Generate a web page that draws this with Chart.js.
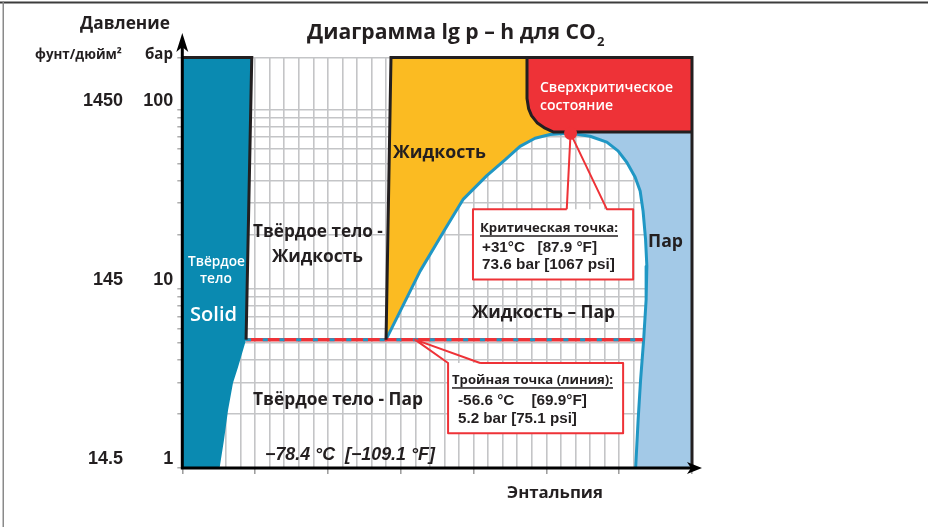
<!DOCTYPE html>
<html>
<head>
<meta charset="utf-8">
<script src="https://cdn.jsdelivr.net/npm/chart.js@4.4.0/dist/chart.umd.min.js"></script>
<style>
  html, body { margin: 0; padding: 0; background: #fff; }
</style>
</head>
<body>
<canvas id="chart" width="928" height="527"></canvas>
<script>
// x = enthalpy in grid cells (0..35, no units shown), y = pressure in bar (log)
const P_MIN = 1, P_MAX = 195, H_MAX = 35;
const barTicks = [1, 10, 100];
const psiTicks = [14.5, 145, 1450];
const pressureGrid = [1, 2, 3, 4, 5, 6, 7, 8, 9, 10, 20, 30, 40, 50, 60, 70, 80, 90, 100];

// solid phase (left)
const solidH = [0, 0, 4.77, 4.38, 3.83, 3.48, 3.14, 2.86, 2.56];
const solidP = [1, 195, 195, 5.2, 3.66, 2.98, 2.1, 1.43, 1];

// melting line (left edge of liquid)
const meltH = [13.99, 14.33];
const meltP = [5.2, 195];

// saturation dome
const domeLeftH = [13.99, 16.33, 18.04, 19.30, 20.91, 22.16, 23.19, 24.22, 25.25];
const domeLeftP = [5.2, 12.54, 21.48, 31.64, 42.76, 52.4, 62.3, 69.1, 72.5];
const critH = 26.66, critP = 73.6;
const domeRightH = [28.0, 29.15, 29.92, 30.52, 31.09, 31.44, 31.64, 31.81, 31.9, 31.85, 31.68, 31.47, 31.3, 31.13];
const domeRightP = [70.9, 65.8, 58.8, 50.8, 42.05, 35.1, 27.1, 18.9, 13.37, 8.7, 5.19, 3.1, 1.85, 1];

// supercritical region
const superH = [23.67, 23.67, 23.78, 23.98, 24.36, 24.91, 25.46, 35, 35];
const superP = [195, 115.1, 101.2, 92.4, 84.4, 78.6, 75, 75, 195];

// triple line
const tripleH = [4.38, 31.62];
const tripleP = [5.2, 5.2];

// callout boxes
const critBoxH = [19.96, 30.96], critBoxP = [11.26, 27.8], critNeckH = [26.40, 29.15];
const tripBoxH = [18.25, 30.27], tripBoxP = [1.561, 3.855], tripNeckH = [18.25, 20.45];
const tripAnchorH = 15.98;

const pts = (h, p) => h.map((v, i) => ({x: v, y: p[i]}));

function area(h, p, color) {
  return {data: pts(h, p), showLine: true, fill: 'shape', backgroundColor: color,
    borderColor: 'rgba(0,0,0,0)', borderWidth: 0, pointRadius: 0, clip: false};
}
function line(h, p, color, width, dash, join) {
  return {data: pts(h, p), showLine: true, fill: false, borderColor: color, borderWidth: width,
    borderDash: dash || [], borderJoinStyle: join || 'miter', borderCapStyle: 'butt',
    pointRadius: 0, clip: false};
}

const TEAL = '#0a8ab1', YELLOW = '#fbbb22', RED = '#ee3237', SKY = '#a3c9e7';
const DOME = '#2097c4', INK = '#231f20', GRID = '#c4c5c7';

const rev = a => a.slice().reverse();

const yellowH = [meltH[0], meltH[1], critH, critH, ...rev(domeLeftH)];
const yellowP = [meltP[0], meltP[1], P_MAX, critP, ...rev(domeLeftP)];
const skyH = [critH, critH, H_MAX, H_MAX, ...rev(domeRightH)];
const skyP = [critP, superP[6], superP[6], P_MIN, ...rev(domeRightP)];
const domeH = [...domeLeftH, critH, ...domeRightH];
const domeP = [...domeLeftP, critP, ...domeRightP];

const critBorderH = [critNeckH[0], critBoxH[0], critBoxH[0], critBoxH[1], critBoxH[1], critNeckH[1], critH, critNeckH[0]];
const critBorderP = [critBoxP[1], critBoxP[1], critBoxP[0], critBoxP[0], critBoxP[1], critBoxP[1], critP, critBoxP[1]];
const tripBorderH = [tripNeckH[1], tripAnchorH, tripNeckH[0], tripBoxH[0], tripBoxH[1], tripBoxH[1], tripNeckH[1]];
const tripBorderP = [tripBoxP[1], tripleP[0], tripBoxP[1], tripBoxP[0], tripBoxP[0], tripBoxP[1], tripBoxP[1]];

// bottom to top
const layers = [
  area(skyH, skyP, SKY),
  area(yellowH, yellowP, YELLOW),
  area(superH, superP, RED),
  area(solidH, solidP, TEAL),
  area([critBoxH[0], critBoxH[1], critBoxH[1], critBoxH[0]], [critBoxP[0], critBoxP[0], critBoxP[1], critBoxP[1]], '#fff'),
  area([tripBoxH[0], tripBoxH[1], tripBoxH[1], tripBoxH[0]], [tripBoxP[0], tripBoxP[0], tripBoxP[1], tripBoxP[1]], '#fff'),
  line(domeH, domeP, DOME, 3, null, 'round'),
  line(tripleH, tripleP, RED, 3.5),
  line(tripleH, tripleP, DOME, 3, [5, 11.7]),
  line([0, solidH[2], solidH[3]], [P_MAX, P_MAX, solidP[3]], INK, 3),
  line([H_MAX, H_MAX, meltH[1], meltH[0]], [P_MIN, P_MAX, P_MAX, meltP[0]], INK, 3),
  line(superH.slice(0, 8), superP.slice(0, 8), INK, 3, null, 'round'),
  line(critBorderH, critBorderP, RED, 2, null, 'round'),
  line(tripBorderH, tripBorderP, RED, 2, null, 'round'),
  {data: [{x: critH, y: critP}], showLine: false, pointRadius: 6.5, pointBackgroundColor: RED,
    pointBorderWidth: 0, pointBorderColor: RED, clip: false}
];
layers.forEach((d, i) => { d.order = layers.length - i; });

function fitText(ctx, s, x0, x1, y, o) {
  o = o || {};
  const fam = o.family || '"Open Sans", sans-serif';
  const wt = o.weight || 700;
  const st = o.style || 'normal';
  ctx.font = st + ' ' + wt + ' 20px ' + fam;
  const size = 20 * (x1 - x0) / ctx.measureText(s).width;
  ctx.font = st + ' ' + wt + ' ' + size.toFixed(2) + 'px ' + fam;
  ctx.fillStyle = o.color || INK;
  ctx.textAlign = 'left';
  ctx.textBaseline = 'middle';
  ctx.fillText(s, x0, y);
  if (o.underline) {
    ctx.fillRect(x0, y + size * 0.55, x1 - x0, 1.5);
  }
}

const decor = {
  id: 'decor',
  afterDraw(chart) {
    const ctx = chart.ctx;
    const {left, right, top, bottom} = chart.chartArea;
    ctx.save();
    // frame
    ctx.fillStyle = '#3c3c3c';
    ctx.fillRect(0, 1.5, 928, 2);
    ctx.fillStyle = '#8a8a8a';
    ctx.fillRect(2.5, 1.5, 1.5, 527);

    // axes with arrows
    ctx.strokeStyle = '#000';
    ctx.fillStyle = '#000';
    ctx.lineWidth = 3;
    ctx.beginPath();
    ctx.moveTo(left, bottom + 1.5);
    ctx.lineTo(left, 47);
    ctx.moveTo(left - 1.5, bottom);
    ctx.lineTo(right - 1, bottom);
    ctx.stroke();
    ctx.beginPath();
    ctx.moveTo(left, 33);
    ctx.lineTo(left + 6, 52);
    ctx.lineTo(left, 47);
    ctx.lineTo(left - 6, 52);
    ctx.closePath();
    ctx.fill();
    ctx.beginPath();
    ctx.moveTo(right + 10, bottom);
    ctx.lineTo(right - 5, bottom - 6);
    ctx.lineTo(right - 1, bottom);
    ctx.lineTo(right - 5, bottom + 6);
    ctx.closePath();
    ctx.fill();

    const NUM = '"Liberation Sans", Arial, sans-serif';
    // axis captions
    fitText(ctx, 'Давление', 80, 170, 24);
    fitText(ctx, 'фунт/дюйм²', 35, 122, 55);
    fitText(ctx, 'бар', 145, 173, 55);
    fitText(ctx, 'Энтальпия', 507, 603, 493);

    // title
    fitText(ctx, 'Диаграмма lg p – h для CO', 307, 596, 33);
    ctx.font = '700 13px "Open Sans", sans-serif';
    ctx.fillText('2', 597, 42);

    // regions
    fitText(ctx, 'Твёрдое', 188, 245, 262, {color: '#fff', weight: 600});
    fitText(ctx, 'тело', 200, 232, 279, {color: '#fff', weight: 600});
    fitText(ctx, 'Solid', 190, 237, 315, {color: '#fff', weight: 600});
    fitText(ctx, 'Твёрдое тело -', 253, 383, 232);
    fitText(ctx, 'Жидкость', 272, 363, 257);
    fitText(ctx, 'Жидкость', 393, 486, 153);
    fitText(ctx, 'Сверхкритическое', 540, 673, 88, {color: '#fff', weight: 600});
    fitText(ctx, 'состояние', 540, 613, 106, {color: '#fff', weight: 600});
    fitText(ctx, 'Пар', 648, 683, 242);
    fitText(ctx, 'Жидкость – Пар', 472, 615, 313);
    fitText(ctx, 'Твёрдое тело - Пар', 253, 423, 400);
    fitText(ctx, '−78.4 °C  [−109.1 °F]', 265, 435, 455, {family: NUM, style: 'italic'});

    // callouts
    fitText(ctx, 'Критическая точка:', 480, 618, 228, {underline: true});
    fitText(ctx, '+31°C   [87.9 °F]', 482, 597, 248, {family: NUM});
    fitText(ctx, '73.6 bar [1067 psi]', 482, 615, 265, {family: NUM});
    fitText(ctx, 'Тройная точка (линия):', 452, 613, 380, {underline: true});
    fitText(ctx, '-56.6 °C    [69.9°F]', 458, 587, 401, {family: NUM});
    fitText(ctx, '5.2 bar [75.1 psi]', 458, 577, 419, {family: NUM});
    ctx.restore();
  }
};

const tickFont = {family: '"Liberation Sans", Arial, sans-serif', size: 18, weight: 'bold'};

new Chart(document.getElementById('chart'), {
  type: 'scatter',
  data: {datasets: layers},
  options: {
    responsive: false,
    devicePixelRatio: 1,
    animation: false,
    layout: {padding: {left: 0, right: 236, top: 57.5, bottom: 49}},
    plugins: {legend: {display: false}, tooltip: {enabled: false}, title: {display: false}},
    scales: {
      x: {
        type: 'linear', min: 0, max: H_MAX, position: 'bottom',
        ticks: {stepSize: 1, display: false, autoSkip: false},
        grid: {
          color: GRID, lineWidth: 1.6, drawTicks: true, tickLength: 6, tickWidth: 1.5,
          tickColor: c => (c.tick && c.tick.value % 5 === 0) ? '#9a9a9a' : 'rgba(0,0,0,0)'
        },
        border: {display: false},
        afterFit: s => { s.height = 10; }
      },
      y: {
        type: 'logarithmic', min: P_MIN, max: P_MAX, position: 'left', weight: 0,
        afterBuildTicks: s => { s.ticks = [...pressureGrid, P_MAX].map(v => ({value: v})); },
        ticks: {
          autoSkip: false, color: INK, font: tickFont, padding: 4, labelOffset: -8.5,
          callback: v => barTicks.includes(v) ? String(v) : ''
        },
        grid: {color: GRID, lineWidth: 1.6, drawTicks: true, tickLength: 5, tickColor: '#9a9a9a', tickWidth: 1.2},
        border: {display: false},
        afterFit: s => { s.width = 54.3; }
      },
      psi: {
        type: 'logarithmic', min: P_MIN * 14.5, max: P_MAX * 14.5, position: 'left', weight: 1,
        afterBuildTicks: s => { s.ticks = psiTicks.map(v => ({value: v})); },
        ticks: {
          autoSkip: false, color: INK, font: tickFont, padding: 5, labelOffset: -8.5,
          callback: v => String(v)
        },
        grid: {display: false, drawTicks: false},
        border: {display: false},
        afterFit: s => { s.width = 128; }
      }
    }
  },
  plugins: [decor]
});
</script>
</body>
</html>
